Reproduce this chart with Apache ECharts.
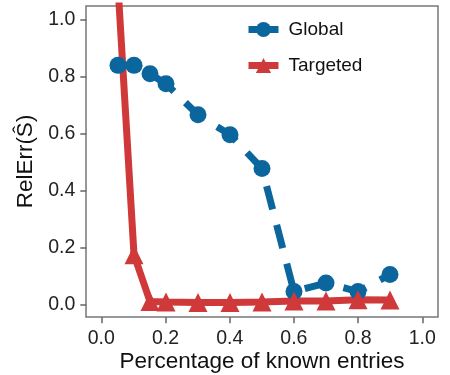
<!DOCTYPE html>
<html>
<head>
<meta charset="utf-8">
<script src="https://cdn.jsdelivr.net/npm/echarts@6/dist/echarts.min.js"></script>
<style>
  html, body { margin: 0; padding: 0; background: #fff; }
  #chart { width: 450px; height: 375px; }
</style>
</head>
<body>
<div id="chart"></div>
<script>
// fraction of known entries
const knownFrac = [0.05, 0.1, 0.15, 0.2, 0.3, 0.4, 0.5, 0.6, 0.7, 0.8, 0.9];
const globalErr = [0.84, 0.84, 0.81, 0.775, 0.665, 0.595, 0.475, 0.04, 0.07, 0.04, 0.10];
const targetedErr = [1.12, 0.17, 0.005, 0.003, 0.001, 0.001, 0.003, 0.007, 0.007, 0.011, 0.01];

const blue = '#0b669e';
const red = '#d0393a';
const font = 'Liberation Sans, Arial, sans-serif';

const chart = echarts.init(document.getElementById('chart'));

// outer axes: data range with padding, frame and titles only
const outerAxis = {
  type: 'value',
  gridIndex: 0,
  min: -0.05,
  max: 1.05,
  splitLine: { show: false },
  axisLine: { show: false, onZero: false },
  axisTick: { show: false },
  axisLabel: { show: false },
  nameLocation: 'middle',
  nameTextStyle: { color: '#111', fontSize: 22.5, fontFamily: font }
};

// inner axes: 0..1 with ticks, pushed out to the frame with offset
const tickAxis = {
  type: 'value',
  gridIndex: 1,
  min: 0,
  max: 1,
  interval: 0.2,
  splitLine: { show: false },
  axisLine: { show: true, onZero: false, lineStyle: { color: 'rgba(0,0,0,0)' } },
  axisTick: { show: true, inside: false, length: 6, lineStyle: { color: '#666', width: 1.5 } },
  axisLabel: {
    formatter: v => v.toFixed(1),
    color: '#222',
    fontSize: 19.5,
    fontFamily: font,
    margin: 11
  }
};

chart.setOption({
  animation: false,
  grid: [
    {
      left: 86, right: 12, top: 6, bottom: 58,
      outerBoundsMode: 'none',
      show: true,
      borderColor: '#777',
      borderWidth: 1.5,
      backgroundColor: 'transparent'
    },
    {
      left: 101.3, right: 27.7, top: 19.8, bottom: 70.7,
      outerBoundsMode: 'none',
      show: false
    }
  ],
  legend: {
    orient: 'vertical',
    left: 245,
    top: 20,
    padding: 0,
    itemWidth: 30,
    itemHeight: 19,
    itemGap: 17,
    lineStyle: { width: 7, type: 'solid' },
    textStyle: { color: '#111', fontSize: 19, fontFamily: font, padding: [0, 0, 0, 5] },
    data: ['Global', 'Targeted']
  },
  xAxis: [
    Object.assign({}, outerAxis, { name: 'Percentage of known entries', nameGap: 33 }),
    Object.assign({}, tickAxis, { offset: 13 })
  ],
  yAxis: [
    Object.assign({}, outerAxis, { name: 'RelErr(\u015C)', nameGap: 49 }),
    Object.assign({}, tickAxis, { offset: 15 })
  ],
  series: [
    {
      name: 'Global',
      type: 'line',
      data: knownFrac.map((x, i) => [x, globalErr[i]]),
      symbol: 'circle',
      symbolSize: 17,
      clip: true,
      itemStyle: { color: blue },
      lineStyle: { color: blue, width: 7, type: [24, 16] }
    },
    {
      name: 'Targeted',
      type: 'line',
      data: knownFrac.map((x, i) => [x, targetedErr[i]]),
      symbol: 'triangle',
      symbolSize: 19,
      clip: true,
      itemStyle: { color: red },
      lineStyle: { color: red, width: 7 }
    }
  ]
});
</script>
</body>
</html>
